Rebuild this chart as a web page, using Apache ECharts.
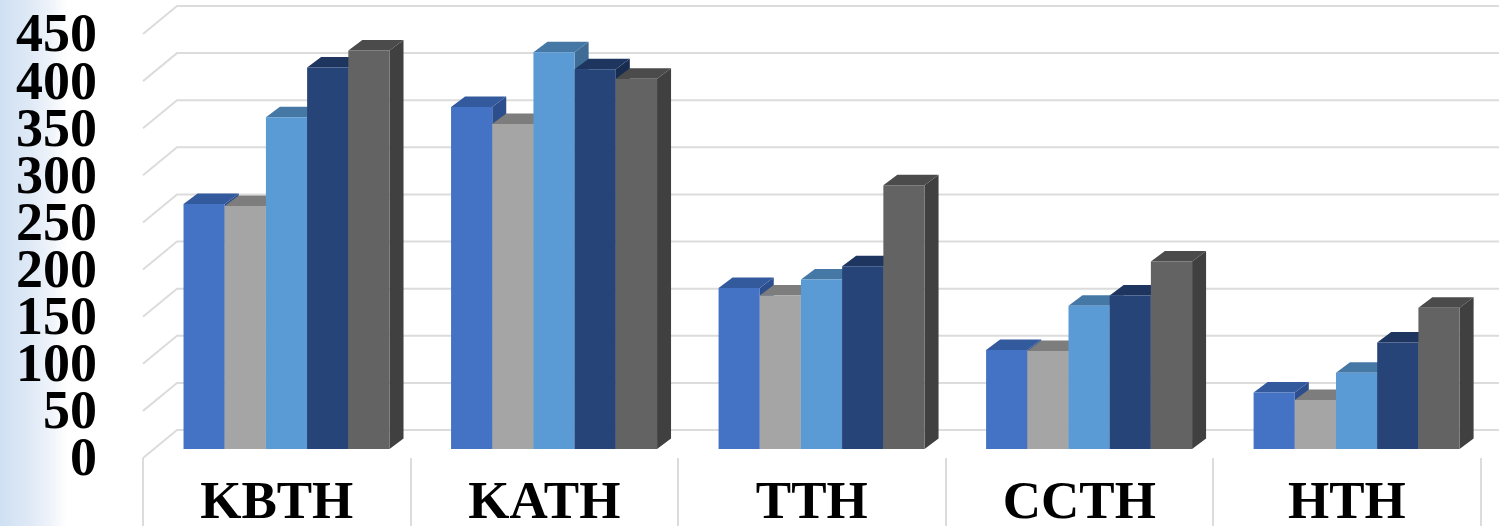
<!DOCTYPE html>
<html>
<head>
<meta charset="utf-8">
<style>
  html, body { margin: 0; padding: 0; width: 1499px; height: 526px; overflow: hidden;
    background: linear-gradient(to right, #cfe0f2 0px, #dfe9f6 30px, #eef3fa 50px, #ffffff 67px); }
  #chart { width: 1499px; height: 526px; }
</style>
<script src="https://cdn.jsdelivr.net/npm/echarts@6/dist/echarts.min.js"></script>
</head>
<body>
<div id="chart"></div>
<script>
// Hospital totals per group, five bars in each group
const categories = ['KBTH', 'KATH', 'TTH', 'CCTH', 'HTH'];
const seriesA = [260, 363, 171, 105, 60];
const seriesB = [258, 345, 163, 104, 52];
const seriesC = [352, 421, 180, 152, 81];
const seriesD = [405, 403, 194, 163, 113];
const seriesE = [423, 393, 280, 199, 150];
const axisTicks = [0, 50, 100, 150, 200, 250, 300, 350, 400, 450];

// Face colours: front, top, side
const palette = [
  ['#4472c4', '#345a9e', '#2d4e8c'],
  ['#a5a5a5', '#7d7d7d', '#6e6e6e'],
  ['#5b9bd5', '#4678a6', '#3f6c96'],
  ['#264478', '#1d355f', '#182c50'],
  ['#636363', '#4b4b4b', '#404040']
];
const seriesValues = [seriesA, seriesB, seriesC, seriesD, seriesE];

// Oblique projection of the plot box and of the bars inside it
const WALL_DX = 34, WALL_DY = 28;
const BAR_LIFT = 9, BAR_DX = 14, BAR_DY = 10.5;
const BAR_RATIO = 0.154, LEAD_RATIO = 0.1515;
const RULE = '#dcdcdc';
const serif = '"Liberation Serif", "Times New Roman", serif';

// One tick of the value axis: its label, the side-wall rule and the back-wall rule.
// The labels sit closer together than their font height, so they are drawn here
// rather than by the axis, which would drop the ones it finds overlapping.
function renderWall(params, api) {
  const v = api.value(1);
  const band = api.size([1, 0])[0];
  const first = api.coord([0, v]);
  const last = api.coord([categories.length - 1, v]);
  const x0 = first[0] - band / 2;
  const x1 = last[0] + band / 2 + WALL_DX;
  const y = first[1];
  return {
    type: 'group',
    children: [
      {
        type: 'polyline',
        shape: { points: [[x0, y], [x0 + WALL_DX, y - WALL_DY], [x1, y - WALL_DY]] },
        style: { stroke: RULE, lineWidth: 2, fill: null }
      },
      {
        type: 'text',
        style: {
          x: x0 - 46, y: y + 3.5, text: String(v),
          fill: '#000', font: 'bold 54px ' + serif, align: 'right', verticalAlign: 'middle'
        }
      }
    ]
  };
}

function makeBarRenderer(slot) {
  return function (params, api) {
    const cat = api.value(0);
    const top = api.coord([cat, api.value(1)]);
    const base = api.coord([cat, 0]);
    const band = api.size([1, 0])[0];
    const w = band * BAR_RATIO;
    const xl = top[0] - band / 2 + band * LEAD_RATIO + slot * w;
    const xr = xl + w;
    const yt = top[1] - BAR_LIFT;
    const yb = base[1] - BAR_LIFT;
    const c = palette[slot];
    const poly = (points, fill) => ({ type: 'polygon', shape: { points }, style: { fill } });
    return {
      type: 'group',
      children: [
        poly([[xr, yt], [xr + BAR_DX, yt - BAR_DY], [xr + BAR_DX, yb - BAR_DY], [xr, yb]], c[2]),
        poly([[xl, yt], [xl + BAR_DX, yt - BAR_DY], [xr + BAR_DX, yt - BAR_DY], [xr, yt]], c[1]),
        poly([[xl, yt], [xr, yt], [xr, yb], [xl, yb]], c[0])
      ]
    };
  };
}

const chart = echarts.init(document.getElementById('chart'), null, { renderer: 'canvas' });

chart.setOption({
  animation: false,
  backgroundColor: 'transparent',
  grid: { left: 143, right: 18.4, top: 34, bottom: 68, containLabel: false, outerBoundsMode: 'none' },
  xAxis: {
    type: 'category',
    data: categories,
    boundaryGap: true,
    axisLine: { show: false },
    axisTick: { show: true, length: 68, lineStyle: { color: RULE, width: 2 } },
    axisLabel: { color: '#000', fontFamily: serif, fontWeight: 'bold', fontSize: 53, margin: 20, interval: 0, hideOverlap: false }
  },
  yAxis: {
    type: 'value',
    min: 0,
    max: 450,
    interval: 50,
    axisLine: { show: false },
    axisTick: { show: false },
    splitLine: { show: false },
    axisLabel: { show: false }
  },
  series: [
    {
      type: 'custom',
      name: 'gridlines',
      silent: true,
      clip: false,
      renderItem: renderWall,
      data: axisTicks.map(t => [0, t]),
      z: 1
    }
  ].concat(seriesValues.map((vals, slot) => ({
    type: 'custom',
    name: 'series' + (slot + 1),
    silent: true,
    clip: false,
    renderItem: makeBarRenderer(slot),
    data: vals.map((v, i) => [i, v]),
    z: 2 + slot
  })))
});
</script>
</body>
</html>
